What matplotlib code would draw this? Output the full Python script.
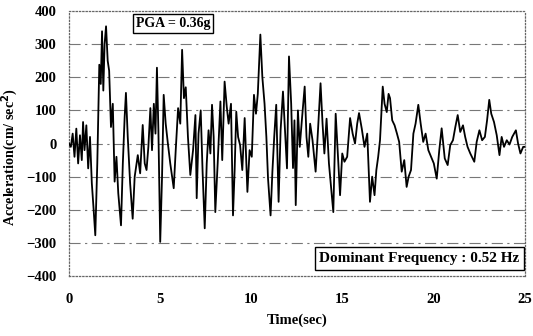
import matplotlib.pyplot as plt
import numpy as np

# time (sec) and acceleration (cm/sec^2), read from the record's peaks and troughs
time = [0.0, 0.1, 0.2, 0.3, 0.4, 0.5, 0.6, 0.7, 0.77, 0.85, 0.95, 1.05, 1.15, 1.25, 1.35, 1.44,
        1.55, 1.66, 1.74, 1.81, 1.88, 1.95, 2.03, 2.12, 2.2, 2.3, 2.4, 2.5, 2.6, 2.7, 2.85,
        2.95, 3.05, 3.12, 3.22, 3.35, 3.49, 3.6, 3.77, 3.9, 4.04, 4.15, 4.25, 4.35, 4.46,
        4.55, 4.65, 4.74, 4.82, 4.9, 5.0, 5.1, 5.19, 5.3, 5.42, 5.55, 5.74, 5.85, 5.98, 6.1,
        6.2, 6.3, 6.4, 6.52, 6.65, 6.8, 6.93, 7.0, 7.1, 7.22, 7.32, 7.44, 7.55, 7.65, 7.75,
        7.84, 7.93, 8.02, 8.15, 8.3, 8.4, 8.53, 8.65, 8.75, 8.88, 8.99, 9.08, 9.17, 9.27,
        9.38, 9.5, 9.63, 9.78, 9.9, 10.02, 10.14, 10.25, 10.35, 10.49, 10.6, 10.72, 10.82,
        10.91, 11.05, 11.15, 11.25, 11.36, 11.49, 11.6, 11.73, 11.85, 11.95, 12.06, 12.18,
        12.28, 12.36, 12.43, 12.55, 12.65, 12.78, 12.92, 13.02, 13.12, 13.22, 13.35, 13.52,
        13.65, 13.79, 13.9, 14.0, 14.12, 14.25, 14.35, 14.49, 14.62, 14.75, 14.86, 14.98,
        15.1, 15.25, 15.41, 15.55, 15.68, 15.8, 15.9, 16.05, 16.2, 16.35, 16.5, 16.62, 16.75,
        16.85, 16.95, 17.05, 17.2, 17.3, 17.42, 17.52, 17.6, 17.72, 17.85, 17.98, 18.1, 18.24,
        18.38, 18.51, 18.62, 18.75, 18.88, 19.0, 19.15, 19.28, 19.42, 19.55, 19.7, 19.85,
        20.0, 20.16, 20.3, 20.43, 20.6, 20.76, 20.9, 21.05, 21.18, 21.31, 21.45, 21.6, 21.72,
        21.85, 22.0, 22.22, 22.35, 22.5, 22.65, 22.8, 22.92, 23.04, 23.15, 23.3, 23.45, 23.6,
        23.72, 23.85, 24.0, 24.15, 24.3, 24.5, 24.62, 24.75, 24.9, 25.0]
accel = [0, -10, 30, -40, 45, -60, 25, -50, 65, -20, 55, -75, 20, -120, -200, -277,
         -60, 238, 180, 339, 160, 300, 354, 250, 220, 50, 120, -115, -40, -150, -247,
         -60, 80, 153, 20, -120, -227, -100, -35, -90, 56, -60, -80, -10, 107,
         -20, 120, 30, 229, 40, -297, -100, 147, 60, 0, -60, -135, -20, 107, 60,
         283, 137, 170, 20, -95, -20, 86, -165, 30, 100, -80, -256, -60, 40, -30,
         117, 20, -207, -60, 127, -50, 187, 110, 60, 120, -217, -80, 96, 20,
         -5, -80, 77, -146, -20, -40, 147, 90, 150, 329, 200, 120, 20,
         -105, -217, -85, 20, 117, -176, 40, 157, 30, -75, 263, 120,
         -74, 70, -186, 100, -10, 80, 172, 20, -40, 60, 10, -85,
         40, 182, 60, -30, 75, -60, -120, -207, 90, -40, -156, -30,
         -55, -40, 77, 30, 0, 60, 92, 45, -10, 30, -176, -100, -156,
         -80, -40, 10, 172, 120, 95, 150, 137, 70, 55, 30, 5, -85,
         -50, -131, -100, -80, 30, 60, 117, 60, 5, 30, -20, -40,
         -60, -106, -20, 46, -45, -65, -5, 10, 50, 86, 35, 55, 20,
         -10, -30, -55, 5, 40, 10, 20, 70, 132, 90, 65, 25, -35,
         20, -10, 10, -3, 20, 40, 0, -30, -10, -10]

ytick_vals = [-400, -300, -200, -100, 0, 100, 200, 300, 400]
xtick_vals = [0, 5, 10, 15, 20, 25]

plt.rcParams['font.family'] = ['Liberation Serif', 'DejaVu Serif']
plt.rcParams['font.weight'] = 'bold'

fig = plt.figure(figsize=(5.33, 3.36), dpi=100)
ax = fig.add_axes([0.1295, 0.1786, 0.8555, 0.7884])

for yv in ytick_vals[1:-1]:
    ax.axhline(yv, color='#777777', lw=0.8, ls=(0, (10, 4, 2, 4)), zorder=1)

ax.plot(time, accel, color='black', lw=1.3, zorder=3)

ax.set_xlim(0, 25)
ax.set_ylim(-400, 400)
ax.set_xticks(xtick_vals)
ax.set_yticks(ytick_vals)
ax.tick_params(length=0, labelsize=10.5)
ax.tick_params(axis='x', pad=12)
ax.tick_params(axis='y', pad=9)
for lab in ax.get_xticklabels() + ax.get_yticklabels():
    lab.set_fontweight('bold')

for sp in ax.spines.values():
    sp.set_linestyle(':')
    sp.set_color('#666666')
    sp.set_linewidth(0.9)

ax.set_xlabel('Time(sec)', fontsize=10.5, fontweight='bold', labelpad=6)
ax.set_ylabel('Acceleration(cm/ sec$^{\\mathbf{2}}$)', fontsize=10.2, fontweight='bold')
ax.yaxis.set_label_coords(-0.107, 0.45)

ax.text(3.65, 362, 'PGA = 0.36g', fontsize=10, fontweight='bold', va='center', ha='left',
        bbox=dict(boxstyle='square,pad=0.2', fc='white', ec='black', lw=1.0), zorder=5)
ax.text(24.7, -347, 'Dominant Frequency : 0.52 Hz', fontsize=11, fontweight='bold',
        va='center', ha='right',
        bbox=dict(boxstyle='square,pad=0.3', fc='white', ec='black', lw=1.0), zorder=5)

fig.savefig('out.png', dpi=100)
